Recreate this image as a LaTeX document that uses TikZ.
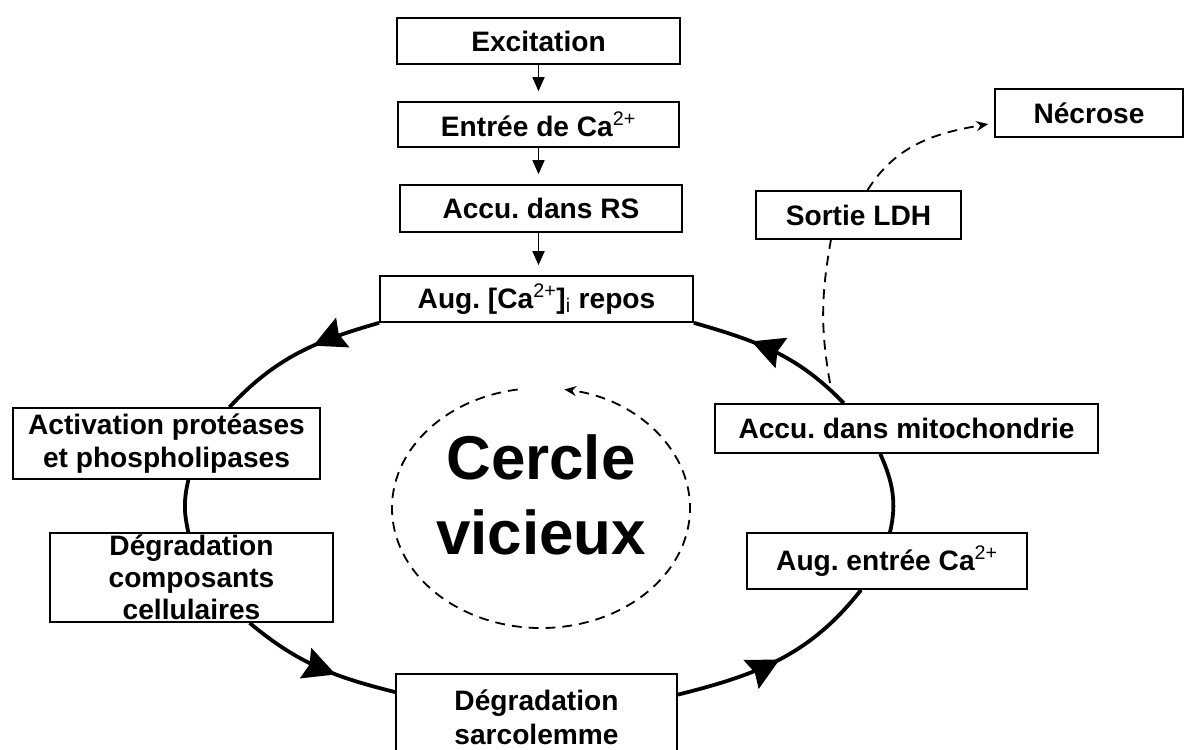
\documentclass[tikz,border=0pt]{standalone}
\usepackage{fontspec}
\setmainfont{Liberation Sans}
\usetikzlibrary{arrows.meta,decorations.markings}
\frenchspacing
\newcommand{\boxfont}{\bfseries\fontsize{20}{24}\selectfont}
\newcommand{\cvfont}{\bfseries\fontsize{44}{53}\selectfont}

\begin{document}
\begin{tikzpicture}[x=0.025cm,y=0.025cm,
    box/.style={draw,line width=1.2pt,fill=white,font=\boxfont,align=center,inner sep=0pt},
    chain/.style={line width=1.2pt,-{Triangle[length=3.5mm,width=3mm]},shorten >=0.25cm},
    ring/.style={line width=2.7pt},
    midarrow/.style={postaction={decorate},decoration={markings,
        mark=at position #1 with {\arrow{Stealth[length=8mm,width=8mm,inset=1mm]}}}},
    dashline/.style={line width=1.3pt,dash pattern=on 7pt off 5pt}]

    \fill[white] (0,0) rectangle (1188,-749);
    \useasboundingbox (0,0) rectangle (1188,-749);

    % chaine du haut
    \node[box,minimum width=7.075cm,minimum height=1.15cm] (exc) at (538.5,-41) {Excitation};
    \node[box,minimum width=7.025cm,minimum height=1.125cm] (entree) at (538.5,-124.5) {Entrée de Ca\textsuperscript{\mdseries 2+}};
    \node[box,minimum width=7.05cm,minimum height=1.175cm] (rs) at (541,-208.5) {Accu. dans RS};
    \node[box,minimum width=7.825cm,minimum height=1.15cm] (repos) at (536.5,-299) {Aug. [Ca\textsuperscript{\mdseries 2+}]\textsubscript{\mdseries i} repos};

    % cercle
    \node[box,minimum width=7.675cm,minimum height=1.775cm] (activ) at (166.5,-443.5) {Activation protéases\\et phospholipases};
    \node[box,minimum width=7.075cm,minimum height=2.225cm,font=\bfseries\fontsize{20}{22.7}\selectfont] (compos) at (191.5,-577.5) {Dégradation\\composants\\cellulaires};
    \node[box,minimum width=7.025cm,minimum height=2.15cm] (sarco) at (536.5,-717) {Dégradation\\sarcolemme};
    \node[box,minimum width=7cm,minimum height=1.4cm] (augca) at (887,-561) {Aug. entrée Ca\textsuperscript{\mdseries 2+}};
    \node[box,minimum width=9.575cm,minimum height=1.225cm] (mito) at (906.5,-428.5) {Accu. dans mitochondrie};

    % sortie
    \node[box,minimum width=5.125cm,minimum height=1.2cm] (ldh) at (858.5,-215) {Sortie LDH};
    \node[box,minimum width=4.7cm,minimum height=1.2cm] (necrose) at (1089,-113) {Nécrose};

    \node[font=\cvfont,align=center] (cv) at (541,-495) {Cercle\\vicieux};

    \draw[chain] (exc.south) -- (exc.south |- entree.north);
    \draw[chain] (entree.south) -- (entree.south |- rs.north);
    \draw[chain] (entree.south |- rs.south) -- (entree.south |- repos.north);

    \draw[ring,midarrow=0.4] (repos.south west) to[out=196,in=47] (activ.30);
    \draw[ring] (activ.-59) to[out=257,in=103] (compos.94);
    \draw[ring,midarrow=0.62] (compos.-38) to[out=320,in=166] (sarco.170);
    \draw[ring,midarrow=0.5] (sarco.9) to[out=14,in=232] (augca.228);
    \draw[ring] (augca.84) to[out=77,in=294] (mito.224);
    \draw[ring,midarrow=0.65] (mito.158) to[out=134,in=344] (repos.south east);

    \coordinate (ldhsrc) at (830,-383);
    \draw[dashline] (ldhsrc) to[out=100,in=260] (ldh.222);
    \draw[dashline,-{Stealth[length=3mm,width=2.5mm]},shorten >=0.15cm] (ldh.70) to[out=58,in=190] (necrose.186);

    \draw[dashline,-{Stealth[length=3mm,width=2.5mm]}] ([yshift=-0.325cm]cv.center) ++(99:149 and 120)
        arc[start angle=99,end angle=441,x radius=149,y radius=120];
\end{tikzpicture}
\end{document}
